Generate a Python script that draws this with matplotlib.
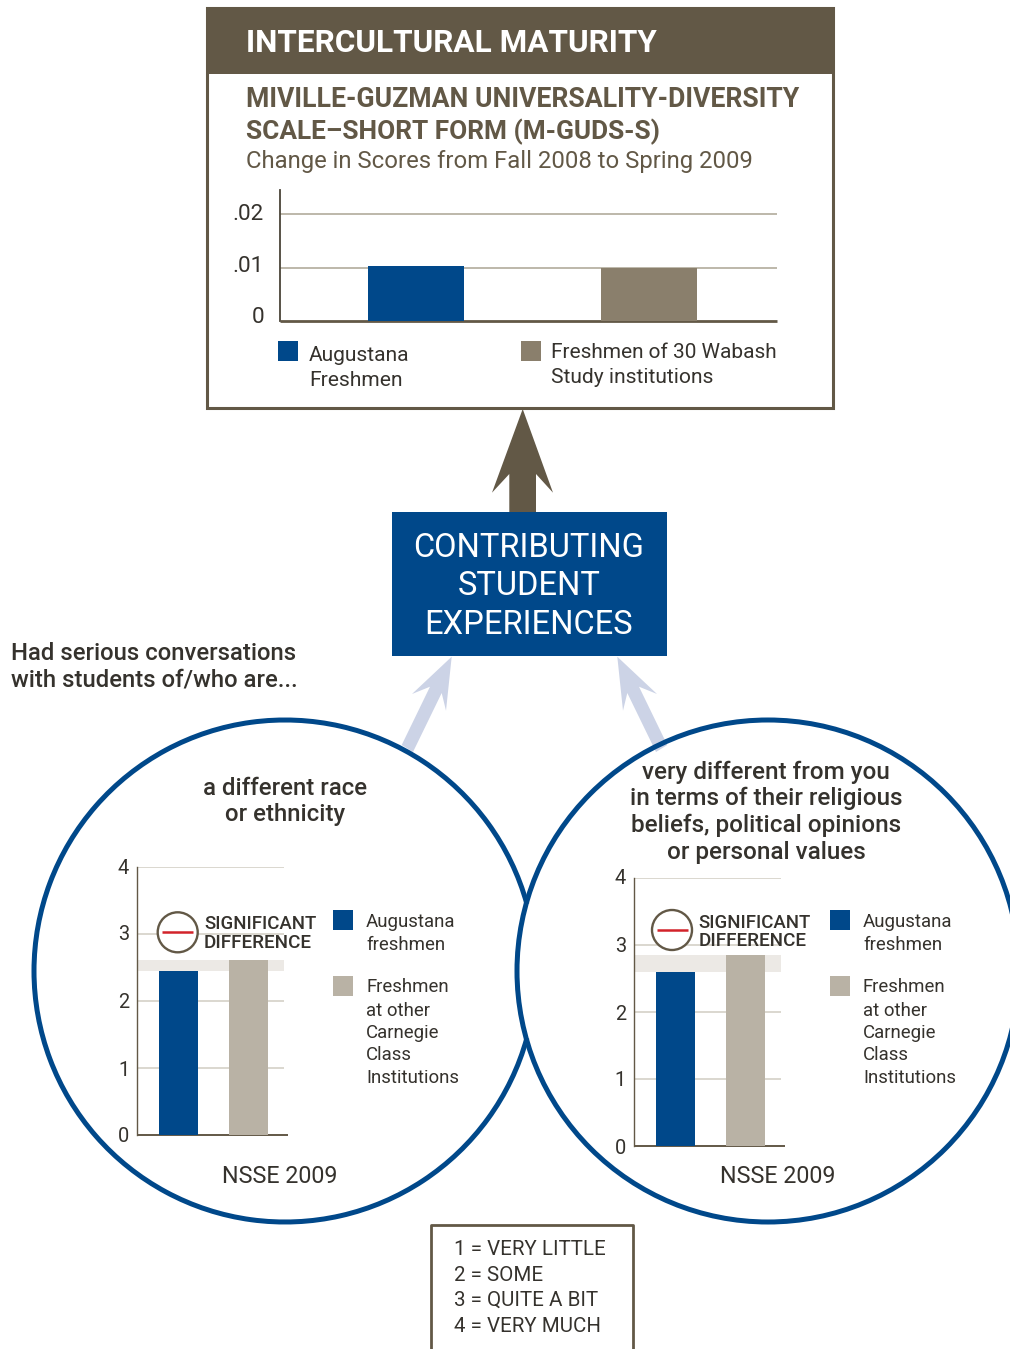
import matplotlib
matplotlib.use("Agg")
import matplotlib.pyplot as plt
from matplotlib.patches import Arc, Circle, Polygon, Rectangle
from matplotlib.transforms import ScaledTranslation

plt.rcParams['font.family'] = ['Roboto', 'DejaVu Sans']

W, H = 1010, 1349
BROWN = '#625846'
BLUE = '#00488a'
TAN = '#8a7f6c'
SAND = '#b9b2a5'
BAND = '#ece9e5'
PALE_ARROW = '#ccd3e6'
INK = '#35322d'
RED = '#d2232a'

# Change in M-GUDS-S scores
maturity_groups = ['Augustana Freshmen', 'Freshmen of 30 Wabash Study institutions']
maturity_values = [0.0102, 0.0099]
maturity_ticks = [0, 0.01, 0.02]
maturity_tick_labels = ['0', '.01', '.02']

# NSSE 2009 conversation items
nsse_ticks = [0, 1, 2, 3, 4]
race_values = [2.45, 2.61]
beliefs_values = [2.60, 2.85]

scale_lines = ['1 = VERY LITTLE', '2 = SOME', '3 = QUITE A BIT', '4 = VERY MUCH']

fig = plt.figure(figsize=(W / 100, H / 100), dpi=100, facecolor='white')

# Full-figure layer addressed in pixels, used for the frames, arrows and captions
page = fig.add_axes([0, 0, 1, 1], zorder=3)
page.set_xlim(0, W)
page.set_ylim(H, 0)
page.axis('off')
page.patch.set_alpha(0)

back = fig.add_axes([0, 0, 1, 1], zorder=0)
back.set_xlim(0, W)
back.set_ylim(H, 0)
back.axis('off')


def px(size):
    return size * 0.72


def label(x, y, s, size, color=INK, weight='normal', ha='left'):
    return page.text(x, y, s, fontsize=px(size), color=color, fontweight=weight,
                     ha=ha, va='baseline')


def chart_axes(x0, x1, y_top, y_bottom):
    ax = fig.add_axes([x0 / W, 1 - y_bottom / H, (x1 - x0) / W, (y_bottom - y_top) / H], zorder=2)
    ax.patch.set_alpha(0)
    for side in ('top', 'right'):
        ax.spines[side].set_visible(False)
    ax.set_xticks([])
    return ax


def raise_tick_labels(ax, shifts):
    """Lift each y tick label by the given number of pixels."""
    for text, shift in zip(ax.get_yticklabels(), shifts):
        text.set_transform(text.get_transform() + ScaledTranslation(0, px(shift) / 72, fig.dpi_scale_trans))


# Top panel frame and header
back.add_patch(Rectangle((207, 8), 626, 400, fc='white', ec=BROWN, lw=2.2))
back.add_patch(Rectangle((206, 7), 628, 67, fc=BROWN, ec='none'))
label(246, 52, 'INTERCULTURAL MATURITY', 31.5, color='white', weight='bold')
label(245.5, 107, 'MIVILLE-GUZMAN UNIVERSALITY-DIVERSITY', 26.6, color=BROWN, weight='bold')
label(245.5, 139, 'SCALE–SHORT FORM (M-GUDS-S)', 26.3, color=BROWN, weight='bold')
label(245.5, 168, 'Change in Scores from Fall 2008 to Spring 2009', 23.9, color=BROWN)

# Top bar chart
ax = chart_axes(280, 777, 190, 321.3)
ax.set_xlim(-136 / 233, 361 / 233)
ax.set_ylim(0, 0.02443)
ax.bar([0, 1], maturity_values, width=96 / 233, color=[BLUE, TAN], zorder=3)
ax.hlines(maturity_ticks[1:], *ax.get_xlim(), color='#bdb8aa', lw=1.4, zorder=1)
ax.set_yticks(maturity_ticks, maturity_tick_labels, fontsize=px(22.5), color=INK)
ax.tick_params(axis='y', length=0, pad=px(16))
raise_tick_labels(ax, [6, 4, 2])
ax.spines['left'].set_color('#4a4438')
ax.spines['left'].set_linewidth(1.3)
ax.spines['bottom'].set_color(BROWN)
ax.spines['bottom'].set_linewidth(2)
ax.spines['bottom'].set_capstyle('butt')

page.add_patch(Rectangle((278, 341), 20, 20, fc=BLUE, ec='none'))
label(309, 361, 'Augustana', 21)
label(309, 386, 'Freshmen', 21)
page.add_patch(Rectangle((521, 341), 20, 20, fc=TAN, ec='none'))
label(551, 358, 'Freshmen of 30 Wabash', 20.9)
label(551, 383, 'Study institutions', 21)

# Flow arrows
back.add_patch(Polygon([(522.7, 409), (553, 492.7), (536, 474), (536, 513), (509.3, 513),
                        (509.3, 474), (492, 492.7)], fc=BROWN, ec='none'))
back.add_patch(Polygon([(451.7, 656.7), (446, 710.7), (441.7, 693), (413, 752), (401.7, 745),
                        (430, 686.7), (412, 694)], fc=PALE_ARROW, ec='none'))
back.add_patch(Polygon([(617.3, 656.7), (623, 710.7), (627.3, 693), (656, 752), (667.3, 745),
                        (639, 686.7), (657, 694)], fc=PALE_ARROW, ec='none'))

# Central box
back.add_patch(Rectangle((392, 512), 275, 144, fc=BLUE, ec='none'))
for text, base in zip(['CONTRIBUTING', 'STUDENT', 'EXPERIENCES'], [557, 595, 634]):
    label(529, base, text, 32.7, color='white', ha='center')

label(11, 660, 'Had serious conversations', 23.9, weight='medium')
label(11, 687, 'with students of/who are...', 23.9, weight='medium')

# Overlapping circles: the left ring stops where it meets the right one
back.add_patch(Arc((285, 971), 502, 502, theta1=15.5, theta2=344.5, color=BLUE, lw=3.6))
back.add_patch(Circle((768, 971), 251, fc='none', ec=BLUE, lw=3.6))

for text, base in zip(['a different race', 'or ethnicity'], [795, 821]):
    label(285, base, text, 24, weight='medium', ha='center')
for text, base in zip(['very different from you', 'in terms of their religious',
                       'beliefs, political opinions', 'or personal values'],
                      [779, 805, 832, 859]):
    label(766, base, text, 24.2, weight='medium', ha='center')


def nsse_chart(x_axis, y_zero, values):
    """Draw one NSSE panel with its axis origin at the given pixel position."""
    ax = chart_axes(x_axis, x_axis + 151, y_zero - 268, y_zero)
    ax.set_xlim(-41.5 / 70, 109.5 / 70)
    ax.set_ylim(0, 4)
    grid_end = ax.get_xlim()[0] + 147 / 70
    ax.hlines(nsse_ticks[1:], ax.get_xlim()[0], grid_end, color='#d8d4cb', lw=1.3, zorder=1)
    ax.fill_between([ax.get_xlim()[0], grid_end], min(values), max(values),
                    color=BAND, lw=0, zorder=2)
    ax.bar([0, 1], values, width=39 / 70, color=[BLUE, SAND], zorder=3)
    ax.set_yticks(nsse_ticks, [str(t) for t in nsse_ticks], fontsize=px(20), color=INK)
    ax.tick_params(axis='y', length=0, pad=px(8))
    raise_tick_labels(ax, [0, 0, 0, 1, 1])
    ax.spines['left'].set_color(BROWN)
    ax.spines['left'].set_linewidth(1)
    ax.spines['bottom'].set_color(BROWN)
    ax.spines['bottom'].set_linewidth(1.4)
    ax.spines['bottom'].set_capstyle('butt')


def significance(cx, cy, text_x, base_1, base_2):
    page.add_patch(Circle((cx, cy), 20, fc='white', ec=BROWN, lw=1.7))
    page.plot([cx - 15.5, cx + 15.5], [cy, cy], color=RED, lw=1.8, solid_capstyle='butt')
    label(text_x, base_1, 'SIGNIFICANT', 18.6, weight='medium')
    label(text_x, base_2, 'DIFFERENCE', 18.9, weight='medium')


def nsse_legend(x):
    page.add_patch(Rectangle((x, 910), 20, 20, fc=BLUE, ec='none'))
    page.add_patch(Rectangle((x, 976), 20, 20, fc=SAND, ec='none'))
    for text, base in zip(['Augustana', 'freshmen'], [927, 950]):
        label(x + 33, base, text, 18.7)
    for text, base in zip(['Freshmen', 'at other', 'Carnegie', 'Class', 'Institutions'],
                          [992, 1016, 1038, 1060, 1083]):
        label(x + 33, base, text, 18.7)


nsse_chart(137, 1135, race_values)
significance(177.7, 932.3, 204, 929, 948)
nsse_legend(333)
label(222.5, 1183, 'NSSE 2009', 23.2)

nsse_chart(634, 1146, beliefs_values)
significance(672, 930, 698.5, 928, 946)
nsse_legend(830)
label(719.5, 1183, 'NSSE 2009', 23.2)

# Response scale key, open along the lower page edge
page.plot([430.5, 430.5, 633, 633], [1352, 1224.5, 1224.5, 1352], color=BROWN, lw=2, clip_on=True)
for text, base in zip(scale_lines, [1255, 1281, 1306, 1332]):
    label(454, base, text, 20.5)

fig.savefig('out.png', dpi=100, facecolor='white')
